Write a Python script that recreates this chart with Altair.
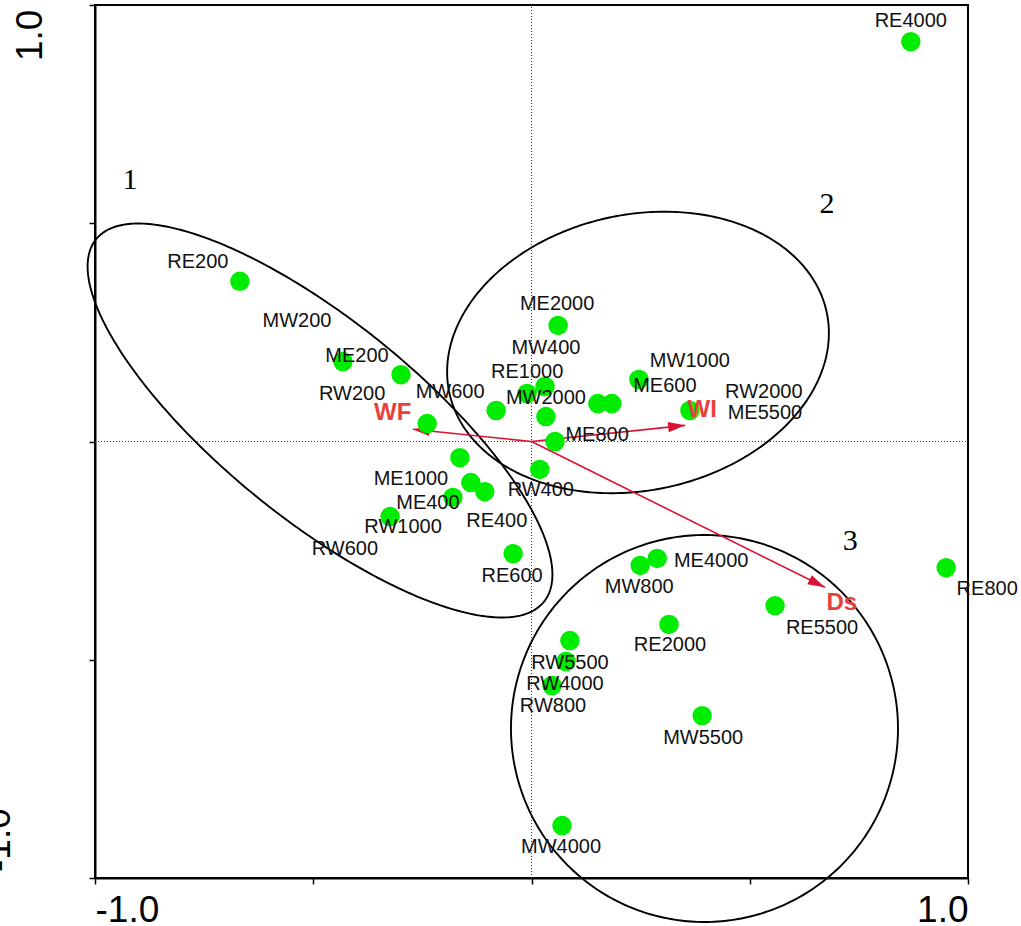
import altair as alt
import numpy as np
import pandas as pd

# ---- site scores on the first two ordination axes ----
site_names = [
    "RE200", "MW200", "ME200", "RW200", "ME1000", "RW600", "RE400", "ME400",
    "RW1000", "RE600", "ME2000", "RE1000", "MW400", "MW600", "MW2000", "ME600",
    "RW2000", "MW1000", "ME5500", "ME800", "RW400", "MW800", "ME4000", "RE5500",
    "RE2000", "RW5500", "RW4000", "RW800", "MW5500", "MW4000", "RE800", "RE4000",
]
axis1 = [
    -0.668, -0.432, -0.299, -0.239, -0.164, -0.139, -0.107, -0.180,
    -0.324, -0.042, 0.061, -0.010, 0.031, -0.081, 0.033, 0.152,
    0.184, 0.246, 0.363, 0.054, 0.019, 0.249, 0.288, 0.558,
    0.315, 0.088, 0.079, 0.047, 0.391, 0.070, 0.950, 0.869,
]
axis2 = [
    0.367, 0.183, 0.153, 0.041, -0.037, -0.094, -0.115, -0.128,
    -0.172, -0.257, 0.266, 0.110, 0.126, 0.071, 0.057, 0.087,
    0.087, 0.142, 0.071, 0.000, -0.064, -0.284, -0.268, -0.376,
    -0.419, -0.456, -0.504, -0.559, -0.628, -0.880, -0.289, 0.916,
]

# label placement around each site symbol (pixels, right / down)
label_dx = [
    -42, -46, -44, -75, -49, -126, 12, -25,
    13, -1, -1, 0, 1, -46, 0, 67,
    152, 51, 75, 42, 1, -1, 54, 47,
    1, 0, -1, 1, 1, -1, 41, 0,
]
label_dy = [
    -19, -41, -19, -30, 21, 66, 29, 6,
    10, 22, -21, -21, -39, -19, -19, -18,
    -12, -19, 2, -7, 21, 22, 3, 22,
    21, 22, 23, 20, 22, 21, 21, -21,
]

# ---- environmental variables (biplot arrows) ----
env_names = ["WF", "WI", "Ds"]
env_axis1 = [-0.272, 0.352, 0.672]
env_axis2 = [0.028, 0.037, -0.334]
env_label_dx = [-20, 17, 17]
env_label_dy = [-16, -15, 16]

# ---- site groups ----
group_names = ["1", "2", "3"]
group_axis1 = [-0.920, 0.677, 0.730]
group_axis2 = [0.598, 0.543, -0.229]

# group envelopes: centre, semi-axes and rotation in degrees
ell_cx = [-0.4845, 0.244, 0.3963]
ell_cy = [0.0481, 0.204, -0.6575]
ell_a = [0.6600, 0.442, 0.4433]
ell_b = [0.2270, 0.316, 0.4433]
ell_rot = [-39, 12, 0]

tick_values = [-1.0, -0.5, 0.0, 0.5, 1.0]

GREEN = "#00ec00"
RED = "#dd1133"
RED_TEXT = "#e8413c"
FONT = "Liberation Sans"

# ---- tables ----
sites = pd.DataFrame({
    "name": site_names, "x": axis1, "y": axis2,
    "dx": label_dx, "dy": label_dy,
})

env = pd.DataFrame({
    "name": env_names, "x2": env_axis1, "y2": env_axis2,
    "dx": env_label_dx, "dy": env_label_dy,
})
env["x"] = 0.0
env["y"] = 0.0
env["angle"] = np.degrees(np.arctan2(env["x2"], env["y2"])) % 360

groups = pd.DataFrame({"name": group_names, "x": group_axis1, "y": group_axis2})

rows = []
t = np.linspace(0, 2 * np.pi, 361)
for g, (cx, cy, a, b, r) in enumerate(zip(ell_cx, ell_cy, ell_a, ell_b, ell_rot)):
    rr = np.radians(r)
    ex = cx + a * np.cos(t) * np.cos(rr) - b * np.sin(t) * np.sin(rr)
    ey = cy + a * np.cos(t) * np.sin(rr) + b * np.sin(t) * np.cos(rr)
    for i, (px, py) in enumerate(zip(ex, ey)):
        rows.append({"g": g, "i": i, "x": px, "y": py})
ellipses = pd.DataFrame(rows)

zero_lines = pd.DataFrame({
    "x": [0.0, -1.0], "x2": [0.0, 1.0],
    "y": [-1.0, 0.0], "y2": [1.0, 0.0],
})

# ---- scales and axes ----
sc = alt.Scale(domain=[-1, 1], nice=False, zero=False)
x_axis = alt.Axis(
    values=tick_values,
    labelExpr="datum.value == -1 ? '-1.0' : (datum.value == 1 ? '1.0' : '')",
    labelFlush=True, labelFont=FONT, labelFontSize=37, labelColor="black",
    labelPadding=8, labelOverlap=False,
    tickSize=6, tickColor="black", tickWidth=1.5,
    domainColor="black", domainWidth=2, grid=False,
)
y_axis = alt.Axis(
    values=tick_values, labels=False,
    tickSize=6, tickColor="black", tickWidth=1.5,
    domainColor="black", domainWidth=2, grid=False,
)


def X(field="x"):
    return alt.X(f"{field}:Q", scale=sc, axis=x_axis, title=None)


def Y(field="y"):
    return alt.Y(f"{field}:Q", scale=sc, axis=y_axis, title=None)


# ---- layers ----
zero = alt.Chart(zero_lines).mark_rule(
    strokeDash=[1, 2], color="#333333", strokeWidth=1
).encode(x=X(), y=Y(), x2="x2:Q", y2="y2:Q")

envelopes = alt.Chart(ellipses).mark_line(
    color="black", strokeWidth=1.9, clip=False
).encode(x=X(), y=Y(), detail="g:N", order="i:Q")

shafts = alt.Chart(env).mark_rule(color=RED, strokeWidth=1.6).encode(
    x=X(), y=Y(), x2="x2:Q", y2="y2:Q"
)

heads = alt.Chart(env).mark_point(
    shape="M0,0L-0.6,2L0.6,2Z", filled=True, color=RED, opacity=1, size=289
).encode(x=X("x2"), y=Y("y2"), angle=alt.Angle("angle:Q", scale=None))

points = alt.Chart(sites).mark_circle(
    color=GREEN, opacity=1, size=380
).encode(x=X(), y=Y())

labels = alt.Chart(sites).mark_text(
    font=FONT, fontSize=20, color="#111111", align="center", baseline="middle",
    dx={"expr": "datum.dx"}, dy={"expr": "datum.dy"},
).encode(x=X(), y=Y(), text="name:N")

env_labels = alt.Chart(env).mark_text(
    font=FONT, fontSize=24, fontWeight="bold", color=RED_TEXT,
    align="center", baseline="middle",
    dx={"expr": "datum.dx"}, dy={"expr": "datum.dy"},
).encode(x=X("x2"), y=Y("y2"), text="name:N")

group_labels = alt.Chart(groups).mark_text(
    font="Liberation Serif", fontSize=30, color="black",
    align="center", baseline="middle",
).encode(x=X(), y=Y(), text="name:N")

ytop = alt.Chart(pd.DataFrame({"y": [1.0], "t": ["1.0"]})).mark_text(
    font=FONT, fontSize=37, color="black", angle=270,
    align="left", baseline="alphabetic", dx=-56,
).encode(x=alt.value(-53), y=Y(), text="t:N")

ybottom = alt.Chart(pd.DataFrame({"y": [-1.0], "t": ["-1.0"]})).mark_text(
    font=FONT, fontSize=37, color="black", angle=270,
    align="left", baseline="alphabetic", dx=6,
).encode(x=alt.value(-85), y=Y(), text="t:N")

chart = alt.layer(
    zero, envelopes, shafts, heads, points, labels, env_labels,
    group_labels, ytop, ybottom,
).properties(
    width=873, height=873,
    padding={"left": 95, "top": 5, "right": 53, "bottom": 48},
    autosize="none",
    background="white",
).configure_view(
    stroke="black", strokeWidth=2
)

chart.save("out.html", embed_options={"renderer": "svg", "actions": False})
